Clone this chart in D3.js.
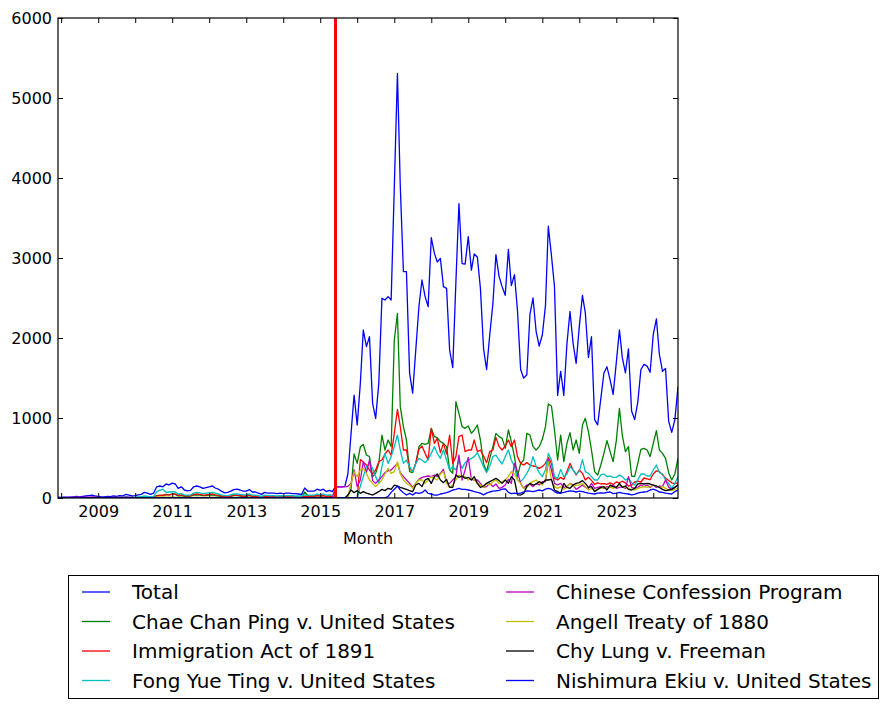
<!DOCTYPE html>
<html>
<head>
<meta charset="utf-8">
<script src="https://cdn.jsdelivr.net/npm/d3@7"></script>
<style>
  body { margin: 0; background: #fff; }
  svg { font-family: "DejaVu Sans", sans-serif; }
</style>
</head>
<body>
<div id="chart"></div>
<script>
// monthly counts, Dec 2007 .. Sep 2024 (first value is 2007-12, then one row per year)
const startMonth = new Date(Date.UTC(2007, 11, 1));
const endMonth = new Date(Date.UTC(2024, 8, 1));
const markerDate = new Date(Date.UTC(2015, 5, 1));

const seriesNames = [
  'Total', 'Chae Chan Ping v. United States', 'Immigration Act of 1891',
  'Fong Yue Ting v. United States', 'Chinese Confession Program',
  'Angell Treaty of 1880', 'Chy Lung v. Freeman', 'Nishimura Ekiu v. United States'
];
const seriesColors = ['#0000ff', '#008000', '#ff0000', '#00bfbf', '#bf00bf', '#bfbf00', '#000000', '#0000ff'];

const total = [10,
  8,10,12,10,15,20,15,20,25,30,35,25,
  20,15,15,20,18,25,20,30,25,45,35,25,
  30,40,45,70,60,45,60,140,150,140,175,165,
  185,175,120,140,100,90,95,140,150,140,120,130,
  140,150,125,110,85,65,70,85,105,110,100,85,
  85,105,75,75,60,45,70,60,60,60,55,60,
  55,60,60,55,55,50,45,125,85,85,85,110,
  95,110,80,95,80,145,140,140,145,300,800,1287,
  912,1437,2100,1892,2017,1183,996,1433,2496,2475,2517,2475,
  3880,5308,3900,2830,2830,1560,1310,1850,2390,2725,2517,2392,
  3254,3058,2950,2996,2642,2621,1850,1630,2700,3680,2931,2923,
  3268,2849,3052,3009,2620,1865,1606,2037,2426,3043,2771,2642,
  2534,3108,2655,2793,2340,1606,1498,1541,2297,2500,2081,1900,
  2037,2405,3397,3031,2642,1282,1584,1282,1930,2331,1930,1684,
  2146,2534,2318,1757,2016,980,915,1239,1563,1640,1476,1295,
  1692,2102,1757,1563,1865,1088,980,1196,1606,1671,1649,1571,
  2046,2240,1800,1584,1619,958,820,980,1390];

const chaeChanPing = [0,
  0,0,0,0,0,2,0,0,3,0,5,0,
  0,3,0,2,0,5,3,8,5,10,5,3,
  5,8,10,15,10,8,12,30,35,30,45,40,
  50,45,25,30,20,20,25,35,40,35,30,30,
  35,40,30,25,20,15,15,20,30,30,25,20,
  20,30,20,20,15,10,15,15,15,15,12,15,
  12,15,15,12,12,10,10,75,25,20,20,30,
  25,30,20,25,15,0,0,0,0,20,120,550,
  433,640,670,537,517,267,308,433,787,600,725,640,
  1975,2308,1142,892,725,330,317,433,640,683,670,683,
  871,767,754,704,683,642,350,308,1204,1058,892,871,
  900,808,850,912,725,433,330,496,642,808,767,746,
  621,850,704,517,267,433,475,808,787,642,600,642,
  733,892,1175,1150,850,475,787,454,683,817,600,725,
  558,912,996,829,600,330,288,412,558,717,579,454,
  717,1121,787,579,642,275,267,433,608,621,600,517,
  683,842,600,558,496,317,225,300,496];

const immigrationAct = [0,
  0,0,0,0,2,0,0,3,0,0,5,0,
  0,0,2,0,3,0,5,3,5,8,5,3,
  5,5,8,10,8,5,10,25,30,35,40,40,
  45,50,35,40,30,25,30,45,50,45,35,40,
  45,50,40,35,25,20,20,25,35,35,30,25,
  25,35,20,25,15,10,20,20,15,20,15,20,
  15,20,15,15,15,10,10,20,20,25,25,30,
  25,30,20,25,20,0,0,0,0,0,0,0,
  0,480,450,412,350,300,350,454,475,550,600,537,
  808,1108,892,600,600,371,330,433,608,650,558,475,
  871,683,746,567,683,550,787,433,517,767,787,579,
  600,600,725,579,600,525,442,579,600,758,642,600,
  650,725,642,725,517,433,412,442,412,400,392,371,
  392,433,508,433,246,225,258,233,330,433,350,288,
  350,308,225,260,220,170,190,175,180,170,190,170,
  200,190,210,190,150,160,200,210,200,250,240,230,
  300,340,330,290,250,220,190,180,190];

const fongYueTing = [0,
  2,0,3,2,5,3,2,5,3,5,8,5,
  3,5,3,5,5,8,5,10,8,15,10,8,
  10,15,15,25,20,15,20,80,95,110,70,75,
  80,75,50,55,40,35,40,60,70,65,55,60,
  65,70,60,50,40,30,30,40,50,50,45,40,
  40,50,35,35,30,20,35,30,30,30,25,30,
  25,30,30,30,25,25,25,40,35,35,35,50,
  40,50,35,40,35,0,0,0,0,0,0,0,
  0,150,267,392,433,371,267,183,392,558,433,517,
  642,787,600,433,475,392,330,433,496,475,442,483,
  558,642,558,496,600,475,350,392,350,467,371,442,
  475,496,517,567,483,392,317,400,517,537,475,425,
  517,600,475,392,225,204,246,308,383,517,392,317,
  267,350,558,475,267,246,358,267,300,392,350,300,
  330,480,330,308,267,225,225,288,300,267,275,258,
  258,288,267,225,246,192,162,225,300,300,275,275,
  350,412,317,300,225,183,121,183,267];

const confessionProgram = [0,
  5,8,5,10,8,10,12,8,10,12,15,10,
  8,5,5,8,5,10,8,10,8,12,10,8,
  5,5,5,5,5,5,5,5,5,5,5,5,
  5,5,5,5,5,5,5,5,5,5,5,5,
  5,5,5,5,5,5,5,5,5,5,5,5,
  3,3,3,3,3,3,3,3,3,3,3,3,
  3,3,3,3,3,3,3,3,3,3,3,3,
  3,3,3,3,5,140,140,140,140,145,183,350,
  142,225,454,317,475,217,183,225,267,317,342,350,
  392,433,317,267,225,183,133,183,233,258,267,275,
  267,288,267,308,358,183,183,225,267,537,225,350,
  508,233,225,225,183,133,142,183,142,175,121,133,
  162,233,183,433,330,183,121,162,175,142,183,162,
  204,204,483,350,183,162,183,133,142,183,162,108,
  133,162,133,121,183,121,133,142,121,142,133,162,
  121,133,142,121,267,133,121,133,162,142,162,133,
  162,133,150,142,225,133,108,133,162];

const angellTreaty = [0,
  0,2,0,3,0,2,3,0,2,3,5,2,
  2,0,2,3,0,3,2,5,3,5,3,2,
  3,3,5,5,5,3,5,10,12,15,10,10,
  12,10,8,8,5,5,5,8,10,8,8,8,
  8,10,8,5,5,3,3,5,5,5,5,5,
  5,5,3,3,3,3,3,3,3,3,3,3,
  3,3,3,3,3,3,3,5,5,5,5,5,
  3,3,3,3,3,0,0,0,0,17,183,330,
  267,350,371,308,225,183,142,183,225,300,371,308,
  330,450,308,225,183,162,121,183,225,225,183,225,
  267,246,225,300,330,183,133,162,225,288,267,267,
  225,254,225,183,162,133,183,162,204,225,183,204,
  225,267,330,300,225,183,121,133,183,204,225,183,
  162,233,454,225,142,121,142,108,133,183,142,162,
  162,183,142,100,121,92,108,121,133,121,142,121,
  133,162,142,133,121,108,100,121,133,142,133,142,
  162,150,133,142,121,100,92,108,121];

const chyLung = [0,
  0,0,0,0,0,0,0,0,0,0,2,0,
  0,0,0,0,0,2,0,2,0,2,2,0,
  2,2,2,3,2,2,2,5,5,5,5,5,
  5,5,3,3,3,3,3,5,5,5,3,3,
  3,5,3,3,3,2,2,3,3,3,3,3,
  3,3,2,2,2,2,2,2,2,2,2,2,
  2,2,2,2,2,2,2,3,3,3,3,3,
  2,2,2,2,2,0,0,0,0,37,100,67,
  92,58,79,60,50,37,58,79,108,92,121,108,
  162,150,133,121,108,92,79,162,183,142,225,246,
  183,267,300,225,192,233,133,133,288,258,275,246,
  258,225,267,183,133,150,183,204,225,246,217,183,
  225,183,267,225,40,37,58,142,183,162,175,204,
  183,225,225,233,100,79,58,183,133,121,162,183,
  192,217,183,133,142,79,108,133,142,100,162,142,
  133,183,133,150,108,100,121,175,183,175,183,175,
  162,150,133,108,92,100,108,133,162];

const nishimuraEkiu = [0,
  0,0,0,0,0,0,0,0,0,0,0,0,
  0,0,0,0,0,0,0,0,0,0,0,0,
  0,0,0,0,0,0,0,0,0,0,0,0,
  0,0,0,0,0,0,0,0,0,0,0,0,
  0,0,0,0,0,0,0,0,0,0,0,0,
  0,0,0,0,0,0,0,0,0,0,0,0,
  0,0,0,0,0,0,0,0,0,0,0,0,
  0,0,0,0,0,0,0,0,0,0,0,0,
  0,0,0,0,0,0,0,0,0,0,20,70,
  110,150,100,67,37,58,37,67,58,67,100,58,
  50,37,37,50,58,67,79,100,108,121,108,108,
  100,92,79,70,60,40,60,75,85,90,95,110,
  115,70,55,60,55,60,75,90,85,80,90,100,
  90,110,120,110,80,60,60,70,80,90,85,75,
  85,80,70,60,55,50,60,65,60,70,75,55,
  60,70,60,55,50,40,45,60,70,75,80,100,
  110,95,75,70,60,55,50,80,100];

const yTicks = [0, 1000, 2000, 3000, 4000, 5000, 6000];

const allSeries = [total, chaeChanPing, immigrationAct, fongYueTing,
  confessionProgram, angellTreaty, chyLung, nishimuraEkiu];

const width = 889, height = 708;
const margin = { left: 58, right: 211, top: 18, bottom: 210 };
const plotW = width - margin.left - margin.right;
const plotH = height - margin.top - margin.bottom;

const months = d3.utcMonth.range(startMonth, d3.utcMonth.offset(endMonth, 1));

const svg = d3.select('#chart')
  .append('svg')
  .attr('width', width)
  .attr('height', height);

svg.append('rect').attr('width', width).attr('height', height).attr('fill', '#fff');

const g = svg.append('g')
  .attr('transform', `translate(${margin.left},${margin.top})`);

const x = d3.scaleUtc().domain([startMonth, endMonth]).range([0, plotW]);
const y = d3.scaleLinear().domain([0, 6000]).range([plotH, 0]);

g.append('clipPath').attr('id', 'plotclip')
  .append('rect').attr('width', plotW).attr('height', plotH);

const line = d3.line()
  .x((d, i) => x(months[i]))
  .y(d => y(d));

const lines = g.append('g').attr('clip-path', 'url(#plotclip)');

allSeries.forEach((s, k) => {
  lines.append('path')
    .datum(s)
    .attr('fill', 'none')
    .attr('stroke', seriesColors[k])
    .attr('stroke-width', 1.3)
    .attr('stroke-linejoin', 'round')
    .attr('d', line);
});

lines.append('line')
  .attr('x1', x(markerDate)).attr('x2', x(markerDate))
  .attr('y1', 0).attr('y2', plotH)
  .attr('stroke', '#ff0000')
  .attr('stroke-width', 3);

// axes, ticks pointing inward like the classic style
const yearTicks = d3.utcYear.range(new Date(Date.UTC(2008, 0, 1)), new Date(Date.UTC(2025, 0, 1)));
const yearLabel = d => (d.getUTCFullYear() % 2 === 1 ? d3.utcFormat('%Y')(d) : '');

g.append('g')
  .attr('transform', `translate(0,${plotH})`)
  .call(d3.axisBottom(x).tickValues(yearTicks).tickFormat(yearLabel)
    .tickSizeInner(-5).tickSizeOuter(0).tickPadding(8));

g.append('g')
  .call(d3.axisTop(x).tickValues(yearTicks).tickFormat('')
    .tickSizeInner(-5).tickSizeOuter(0));

g.append('g')
  .call(d3.axisLeft(y).tickValues(yTicks).tickFormat(d3.format('d'))
    .tickSizeInner(-5).tickSizeOuter(0).tickPadding(6));

g.append('g')
  .attr('transform', `translate(${plotW},0)`)
  .call(d3.axisRight(y).tickValues(yTicks).tickFormat('')
    .tickSizeInner(-5).tickSizeOuter(0));

g.selectAll('.domain').remove();
g.selectAll('.tick line').attr('stroke', '#000').attr('stroke-width', 1);
g.selectAll('.tick text')
  .attr('fill', '#000')
  .style('font-size', '16px')
  .style('font-family', '"DejaVu Sans", sans-serif');

g.append('rect')
  .attr('width', plotW).attr('height', plotH)
  .attr('fill', 'none')
  .attr('stroke', '#000')
  .attr('stroke-width', 1.2);

g.append('text')
  .attr('x', plotW / 2)
  .attr('y', plotH + 46)
  .attr('text-anchor', 'middle')
  .style('font-size', '16px')
  .text('Month');

// legend below the axes, two columns
const legend = svg.append('g');
legend.append('rect')
  .attr('x', 68.5).attr('y', 575.5)
  .attr('width', 810).attr('height', 123)
  .attr('fill', '#fff')
  .attr('stroke', '#000')
  .attr('stroke-width', 1);

const colX = [82, 506];
const rowY = [592, 621.5, 651, 680.5];

seriesNames.forEach((name, k) => {
  const col = Math.floor(k / 4);
  const row = k % 4;
  const item = legend.append('g')
    .attr('transform', `translate(${colX[col]},${rowY[row]})`);
  item.append('line')
    .attr('x1', 0).attr('x2', 28)
    .attr('y1', 0).attr('y2', 0)
    .attr('stroke', seriesColors[k])
    .attr('stroke-width', 1.3);
  item.append('text')
    .attr('x', 50)
    .attr('dy', '0.35em')
    .style('font-size', '20px')
    .text(name);
});
</script>
</body>
</html>
